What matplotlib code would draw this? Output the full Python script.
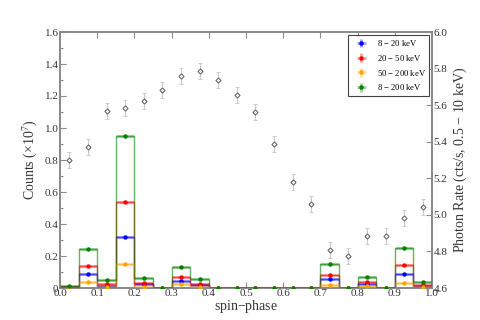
import numpy as np
import matplotlib
matplotlib.use("Agg")
import matplotlib.pyplot as plt

plt.rcParams['font.family'] = ['Liberation Serif', 'DejaVu Serif']
plt.rcParams['mathtext.fontset'] = 'custom'
plt.rcParams['mathtext.rm'] = 'Liberation Serif'
plt.rcParams['mathtext.it'] = 'Liberation Serif:italic'

edges = np.linspace(0, 1, 21)
centers = (edges[:-1] + edges[1:]) / 2

labels = ['8 $-$ 20 keV', '20 $-$ 50 keV', '50 $-$ 200 keV', '8 $-$ 200 keV']
colors = ['blue', 'red', 'orange', 'green']

blue   = [0.005, 0.088, 0.015, 0.319, 0.024, 0, 0.046, 0.020, 0, 0, 0, 0, 0, 0, 0.056, 0, 0.025, 0, 0.090, 0.012]
red    = [0.008, 0.138, 0.025, 0.538, 0.030, 0, 0.071, 0.025, 0, 0, 0, 0, 0, 0, 0.083, 0, 0.040, 0, 0.146, 0.017]
orange = [0.003, 0.035, 0.008, 0.148, 0.008, 0, 0.023, 0.008, 0, 0, 0, 0, 0, 0, 0.021, 0, 0.010, 0, 0.031, 0.008]
green  = [0.012, 0.244, 0.050, 0.950, 0.060, 0, 0.131, 0.054, 0, 0, 0, 0, 0, 0, 0.148, 0, 0.067, 0, 0.250, 0.035]
series = [blue, red, orange, green]

rate = [5.300, 5.369, 5.570, 5.586, 5.623, 5.683, 5.759, 5.788, 5.738, 5.655,
        5.561, 5.389, 5.182, 5.058, 4.806, 4.773, 4.884, 4.883, 4.985, 5.045]
rate_err = [0.044] * 20

fig = plt.figure(figsize=(4.8, 3.2), dpi=100)
ax = fig.add_axes([60/480, 1-288/320, 372/480, 256/320])
ax2 = ax.twinx()

spine_c = '#8a8a8a'
txt_c = '#333333'

for vals, c, lab in zip(series, colors, labels):
    ax.stairs(vals, edges, color=c, lw=1.0, alpha=0.6, zorder=2)
    ax.errorbar(centers, vals, xerr=0.025, yerr=0.004, fmt='o', ms=2.2,
                color=c, ecolor=matplotlib.colors.to_rgba(c, 0.35),
                elinewidth=2.2, label=lab, zorder=3)

ax2.errorbar(centers, rate, yerr=rate_err, fmt='D', ms=2.6, mfc='white',
             mec='#555555', mew=0.7, ecolor='#cccccc', elinewidth=0.9,
             capsize=1.2, zorder=4)

ax.set_xlim(0, 1)
ax.set_ylim(0, 1.6)
ax2.set_ylim(4.6, 6.0)

ax.set_xticks(np.arange(0, 1.01, 0.1))
ax.set_yticks(np.arange(0, 1.61, 0.2))
ax.set_yticks(np.arange(0, 1.61, 0.1), minor=True)
ax2.set_yticks(np.arange(4.6, 6.01, 0.2))

ax.tick_params(axis='both', which='both', direction='in', colors=spine_c,
               labelcolor=txt_c, labelsize=8, width=0.8)
ax.tick_params(axis='x', top=True, length=4, pad=1)
ax.tick_params(axis='y', which='major', length=4, pad=1)
ax.tick_params(axis='y', which='minor', length=2.5)
ax2.tick_params(axis='y', direction='in', colors=spine_c, labelcolor=txt_c,
                labelsize=8, width=0.8, length=4, pad=1)
ax.xaxis.set_major_formatter(matplotlib.ticker.FormatStrFormatter('%.1f'))
ax.yaxis.set_major_formatter(matplotlib.ticker.FuncFormatter(
    lambda v, p: '0' if abs(v) < 1e-9 else '%.1f' % v))
ax2.yaxis.set_major_formatter(matplotlib.ticker.FormatStrFormatter('%.1f'))

for a in (ax, ax2):
    for s in a.spines.values():
        s.set_color(spine_c)
        s.set_linewidth(1.3)

ax.set_xlabel('spin$-$phase', fontsize=10, color=txt_c, labelpad=0)
ax.set_ylabel('Counts ($\\times$10$^7$)', fontsize=10, color=txt_c, labelpad=3)
ax2.set_ylabel('Photon Rate (cts/s, 0.5 $-$ 10 keV)', fontsize=10, color=txt_c, labelpad=3)

leg = ax.legend(loc='upper right', fontsize=6.2, fancybox=False, framealpha=1,
                edgecolor='#444444', borderaxespad=0.3, handlelength=2.4,
                labelspacing=0.55, borderpad=0.4, handletextpad=0.6)
leg.get_frame().set_linewidth(0.8)
leg.set_zorder(10)
ax.set_zorder(ax2.get_zorder() + 1)
ax.patch.set_visible(False)

fig.savefig('out.png', dpi=100)
